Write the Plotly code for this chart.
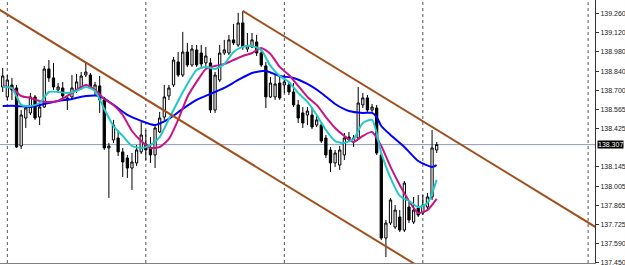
import plotly.graph_objects as go

# ---- candle data (bar index 0..94) ----
opens = [138.725,138.653,138.740,138.718,138.297,138.500,138.537,138.653,138.507,138.580,
         138.856,138.791,138.704,138.718,138.646,138.653,138.704,138.725,138.812,138.812,
         138.704,138.733,138.631,138.283,138.341,138.355,138.254,138.210,138.137,138.174,
         138.254,138.312,138.283,138.232,138.399,138.507,138.660,138.740,138.907,138.812,
         138.979,138.885,138.994,138.972,138.900,138.900,138.558,138.776,138.972,138.972,
         139.067,139.030,139.190,139.001,139.016,139.052,138.972,138.878,138.653,138.653,
         138.754,138.740,138.740,138.689,138.595,138.537,138.522,138.522,138.449,138.449,
         138.355,138.268,138.174,138.159,138.232,138.362,138.326,138.355,138.595,138.646,
         138.558,138.573,138.232,137.629,137.738,137.709,137.782,137.687,137.854,137.745,
         137.847,137.811,137.854,137.927,138.268]
highs = [138.863,138.812,138.791,138.740,138.558,138.588,138.682,138.667,138.609,138.878,
         138.921,138.900,138.754,138.762,138.667,138.812,138.820,138.834,138.907,138.827,
         138.762,138.805,138.653,138.319,138.486,138.413,138.283,138.232,138.246,138.304,
         138.471,138.413,138.362,138.449,138.544,138.740,138.740,138.943,138.979,139.125,
         139.045,139.030,139.030,139.030,139.016,138.936,138.834,139.030,139.067,139.103,
         139.183,139.263,139.277,139.117,139.117,139.103,139.008,138.907,138.798,138.820,
         138.798,138.812,138.762,138.754,138.631,138.580,138.580,138.580,138.522,138.471,
         138.377,138.290,138.268,138.297,138.391,138.399,138.377,138.725,138.682,138.667,
         138.602,138.595,138.246,137.760,137.920,137.869,137.832,138.043,137.890,137.927,
         137.941,137.941,137.956,138.413,138.326]
lows = [138.689,138.631,138.631,138.283,138.275,138.428,138.522,138.486,138.449,138.573,
        138.762,138.704,138.682,138.631,138.558,138.631,138.682,138.704,138.798,138.711,
        138.667,138.537,138.268,137.920,138.319,138.224,138.072,138.065,137.978,138.152,
        138.239,138.195,138.174,138.137,138.391,138.486,138.631,138.725,138.798,138.798,
        138.871,138.871,138.871,138.871,138.871,138.537,138.537,138.762,138.958,138.958,
        139.030,139.016,138.994,138.979,139.008,138.950,138.871,138.573,138.646,138.631,
        138.631,138.682,138.667,138.580,138.464,138.428,138.449,138.420,138.435,138.319,
        138.210,138.108,138.145,138.123,138.195,138.326,138.290,138.341,138.573,138.544,
        138.537,138.232,137.614,137.491,137.724,137.695,137.673,137.673,137.738,137.731,
        137.782,137.796,137.832,137.905,138.246]
closes = [138.805,138.776,138.704,138.290,138.522,138.573,138.653,138.500,138.580,138.856,
          138.791,138.725,138.725,138.660,138.631,138.718,138.762,138.805,138.834,138.725,
          138.740,138.631,138.283,138.297,138.449,138.254,138.181,138.137,138.181,138.268,
          138.377,138.268,138.232,138.428,138.500,138.653,138.718,138.921,138.812,138.979,
          138.885,139.001,138.885,138.892,138.950,138.558,138.812,138.972,138.994,139.067,
          139.045,139.190,139.016,139.023,139.067,138.972,138.885,138.653,138.754,138.747,
          138.646,138.762,138.689,138.595,138.500,138.464,138.551,138.435,138.486,138.333,
          138.232,138.174,138.246,138.268,138.355,138.341,138.355,138.609,138.646,138.558,
          138.580,138.246,137.629,137.738,137.905,137.832,137.687,138.028,137.760,137.832,
          137.796,137.869,137.927,138.283,138.307]
bars = list(range(len(opens)))

# ---- moving averages ----
ma_fast_x = list(range(0, 95, 2))
ma_fast = [138.725,138.718,138.595,138.588,138.609,138.689,138.689,138.682,138.696,138.725,
           138.696,138.566,138.442,138.370,138.297,138.283,138.304,138.362,138.493,138.624,
           138.747,138.849,138.871,138.856,138.892,138.979,139.016,139.023,138.994,138.878,
           138.805,138.762,138.682,138.617,138.522,138.413,138.333,138.319,138.348,138.464,
           138.486,138.246,138.065,137.935,137.898,137.854,137.883,138.051]
ma_mid_x = list(range(0, 95, 2))
ma_mid = [138.733,138.718,138.660,138.646,138.624,138.617,138.624,138.660,138.704,138.740,
          138.704,138.638,138.595,138.522,138.406,138.333,138.283,138.290,138.348,138.486,
          138.653,138.762,138.856,138.878,138.892,138.921,138.950,138.972,139.008,138.965,
          138.871,138.812,138.733,138.653,138.595,138.507,138.428,138.370,138.326,138.370,
          138.399,138.297,138.145,138.014,137.898,137.811,137.832,137.913]
ma_slow_x = [0,3,6,9,12,15,18,21,24,27,30,33,36,39,42,45,48,51,54,57,60,63,66,69,72,75,78,
             80,81,82,84,87,90,93,94]
ma_slow = [138.588,138.588,138.580,138.602,138.624,138.638,138.660,138.660,138.595,138.522,
           138.479,138.449,138.493,138.566,138.631,138.675,138.718,138.776,138.827,138.842,
           138.805,138.791,138.747,138.682,138.602,138.551,138.537,138.537,138.507,138.442,
           138.377,138.290,138.188,138.145,138.159]

# ---- channel lines (bar index, price) ----
chan1_x = [-1, 93]
chan1_y = [139.2925, 137.3636]
chan2_x = [52, 130]
chan2_y = [139.277, 137.676]

# ---- axis / reference values ----
bid_price = 138.307
tick_vals = [139.260,139.120,138.980,138.840,138.700,138.565,138.425,
             138.145,138.005,137.865,137.725,137.590,137.450]
tick_text = ["%.3f" % v for v in tick_vals]
grid_bars = [1, 31, 61, 91, 126.8]

fig = go.Figure()
fig.add_trace(go.Candlestick(
    x=bars, open=opens, high=highs, low=lows, close=closes,
    increasing=dict(line=dict(color="#000000", width=1), fillcolor="#FFFFFF"),
    decreasing=dict(line=dict(color="#000000", width=1), fillcolor="#000000"),
    whiskerwidth=0, showlegend=False, hoverinfo="skip"))

fig.add_trace(go.Scatter(x=ma_slow_x, y=ma_slow, mode="lines",
                         line=dict(color="#0000FF", width=2, shape="spline", smoothing=0.6),
                         showlegend=False, hoverinfo="skip"))
fig.add_trace(go.Scatter(x=ma_mid_x, y=ma_mid, mode="lines",
                         line=dict(color="#C71585", width=2, shape="spline", smoothing=0.6),
                         showlegend=False, hoverinfo="skip"))
fig.add_trace(go.Scatter(x=ma_fast_x, y=ma_fast, mode="lines",
                         line=dict(color="#20C8C8", width=2, shape="spline", smoothing=0.6),
                         showlegend=False, hoverinfo="skip"))
for cx, cy in ((chan1_x, chan1_y), (chan2_x, chan2_y)):
    fig.add_trace(go.Scatter(x=cx, y=cy, mode="lines",
                             line=dict(color="#A0501E", width=2),
                             showlegend=False, hoverinfo="skip"))

shapes = []
for g in grid_bars:
    shapes.append(dict(type="line", xref="x", yref="paper", x0=g, x1=g, y0=0, y1=1,
                       line=dict(color="#555555", width=1, dash="dot"), layer="below"))
shapes.append(dict(type="line", xref="paper", yref="y", x0=0, x1=1, y0=bid_price, y1=bid_price,
                   line=dict(color="#8E9CB4", width=1), layer="below"))

fig.update_layout(
    width=625, height=265,
    margin=dict(l=0, r=30, t=0, b=2),
    paper_bgcolor="#FFFFFF", plot_bgcolor="#FFFFFF",
    shapes=shapes,
    xaxis=dict(range=[-0.585, 128.29], showgrid=False, zeroline=False,
               showticklabels=False, ticks="", rangeslider=dict(visible=False),
               showline=True, linecolor="#7F7F7F", linewidth=1, mirror=False),
    yaxis=dict(range=[137.4479, 139.3565], side="right", showgrid=False, zeroline=False,
               tickvals=tick_vals, ticktext=tick_text, ticks="outside", ticklen=3,
               tickcolor="#333333", showline=True, linecolor="#333333", linewidth=1,
               ticklabeloverflow="allow",
               tickfont=dict(family="Liberation Sans", size=7, color="#222222")),
    annotations=[dict(xref="paper", yref="y", x=1.0, y=bid_price, xanchor="left",
                      yanchor="middle", xshift=2, text="%.3f" % bid_price, showarrow=False,
                      bgcolor="#000000", borderpad=0,
                      font=dict(family="Liberation Sans", size=7, color="#FFFFFF"))],
)
fig.write_html("out.html")
